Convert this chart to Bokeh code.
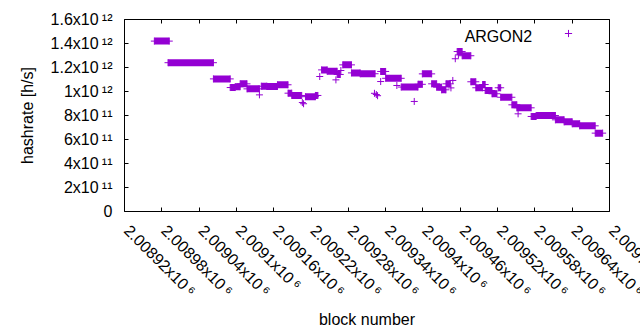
import math
from bokeh.plotting import figure
from bokeh.models import (ColumnDataSource, Label, FixedTicker, LinearAxis, Range1d,
                          Legend, LegendItem, CustomJSTickFormatter)
from bokeh.embed import file_html
from bokeh.resources import INLINE

# ---------------- data ----------------
# runs of constant hashrate (difficulty periods): first block, last block, hashrate [h/s]
run_start = [2008968, 2008990, 2009063, 2009090, 2009098, 2009106, 2009117, 2009140, 2009149,
             2009166, 2009183, 2009189, 2009211, 2009227, 2009237, 2009246, 2009262, 2009271,
             2009285, 2009299, 2009332, 2009340, 2009365, 2009392, 2009399, 2009414, 2009422,
             2009430, 2009437, 2009455, 2009463, 2009477, 2009485, 2009496, 2009500, 2009511,
             2009521, 2009525, 2009543, 2009551, 2009574, 2009582, 2009613, 2009627, 2009640,
             2009652, 2009677]
run_end = [2008992, 2009063, 2009090, 2009098, 2009106, 2009117, 2009137, 2009149, 2009166,
           2009183, 2009189, 2009205, 2009227, 2009231, 2009246, 2009262, 2009267, 2009285,
           2009299, 2009323, 2009340, 2009365, 2009392, 2009399, 2009414, 2009422, 2009430,
           2009437, 2009444, 2009463, 2009477, 2009485, 2009496, 2009500, 2009511, 2009519,
           2009525, 2009543, 2009551, 2009574, 2009582, 2009613, 2009627, 2009640, 2009652,
           2009677, 2009689]
run_value = [1.42e12, 1.24e12, 1.105e12, 1.033e12, 1.04e12, 1.064e12, 1.022e12, 1.044e12, 1.042e12,
             1.056e12, 0.986e12, 0.967e12, 0.957e12, 0.967e12, 1.18e12, 1.168e12, 1.142e12, 1.222e12,
             1.155e12, 1.148e12, 1.167e12, 1.11e12, 1.037e12, 1.06e12, 1.147e12, 1.064e12, 1.036e12,
             1.014e12, 1.064e12, 1.333e12, 1.298e12, 1.081e12, 1.031e12, 1.058e12, 1.008e12, 0.981e12,
             1.031e12, 0.952e12, 0.889e12, 0.864e12, 0.792e12, 0.8e12, 0.764e12, 0.747e12, 0.731e12,
             0.714e12, 0.653e12]

# isolated blocks
iso_block = [2009137, 2009206, 2009208, 2009234, 2009260, 2009268, 2009322, 2009325, 2009327,
             2009332, 2009358, 2009386, 2009445, 2009448, 2009452, 2009457, 2009553]
iso_value = [0.972e12, 0.908e12, 0.898e12, 1.125e12, 1.097e12, 1.175e12, 0.985e12, 0.975e12, 0.965e12,
             1.083e12, 1.05e12, 0.917e12, 1.03e12, 1.092e12, 1.273e12, 1.305e12, 0.814e12]

series_name = "ARGON2"

x_ticks = [2008920, 2008980, 2009040, 2009100, 2009160, 2009220, 2009280, 2009340,
           2009400, 2009460, 2009520, 2009580, 2009640, 2009700]
x_tick_main = ["2.00892x10", "2.00898x10", "2.00904x10", "2.0091x10", "2.00916x10",
               "2.00922x10", "2.00928x10", "2.00934x10", "2.0094x10", "2.00946x10",
               "2.00952x10", "2.00958x10", "2.00964x10", "2.0097x10"]
x_tick_sup = ["6", "6", "6", "6", "6", "6", "6", "6", "6", "6", "6", "6", "6", "6"]

y_ticks = [0, 2e11, 4e11, 6e11, 8e11, 1e12, 1.2e12, 1.4e12, 1.6e12]
y_tick_main = ["0", "2x10", "4x10", "6x10", "8x10", "1x10", "1.2x10", "1.4x10", "1.6x10"]
y_tick_sup = ["", "11", "11", "11", "11", "12", "12", "12", "12"]

x_title = "block number"
y_title = "hashrate [h/s]"

# ---------------- style ----------------
PURPLE = "#9400D3"
FONT = "Liberation Sans"
FS = "16px"
SUP = str.maketrans("0123456789", "\u2070\u00b9\u00b2\u00b3\u2074\u2075\u2076\u2077\u2078\u2079")


def with_sup(main, sup, lead=""):
    return lead + main + ("\u2009" + sup.translate(SUP) if sup else "")


x_labels = [with_sup(m, s, "\u2009") for m, s in zip(x_tick_main, x_tick_sup)]
y_labels = [with_sup(m, s) for m, s in zip(y_tick_main, y_tick_sup)]

X0, X1 = x_ticks[0], x_ticks[-1]
Y0, Y1 = y_ticks[0], y_ticks[-1]

p = figure(width=640, height=330, output_backend="svg", toolbar_location=None,
           x_range=Range1d(X0, X1), y_range=Range1d(Y0, Y1),
           x_axis_location=None, y_axis_location=None,
           min_border_left=124, min_border_right=31, min_border_top=19, min_border_bottom=119)
p.outline_line_color = "black"
p.outline_line_width = 1
p.background_fill_color = "white"
p.border_fill_color = "white"
p.grid.visible = False

LOOKUP = ("const i = vals.findIndex(v => Math.abs(v - tick) <= 1e-9 * Math.max(1, Math.abs(v)));"
          " return i >= 0 ? labels[i] : '';")


def style_axis(ax, show):
    ax.axis_line_color = None
    ax.major_tick_in = 4
    ax.major_tick_out = 0
    ax.minor_tick_in = 0
    ax.minor_tick_out = 0
    ax.major_tick_line_color = "black"
    if show:
        ax.major_label_text_font = FONT
        ax.major_label_text_font_size = FS
        ax.major_label_text_color = "black"
        ax.axis_label_text_font = FONT
        ax.axis_label_text_font_size = FS
        ax.axis_label_text_font_style = "normal"
        ax.axis_label_text_color = "black"
    else:
        ax.major_label_text_font_size = "1px"
        ax.major_label_standoff = 0


fx = CustomJSTickFormatter(args=dict(vals=x_ticks, labels=x_labels), code=LOOKUP)
fy = CustomJSTickFormatter(args=dict(vals=y_ticks, labels=y_labels), code=LOOKUP)
blank = CustomJSTickFormatter(code="return ''")

# tick order: the two right-most ticks are listed early so that Bokeh does not pull the
# right-most label back inside the canvas (the reference lets it run off the edge)
x_tick_order = [x_ticks[0]] + x_ticks[-2:] + x_ticks[1:-2]

xb = LinearAxis(ticker=FixedTicker(ticks=x_tick_order, minor_ticks=[]), formatter=fx,
                axis_label=x_title)
style_axis(xb, True)
xb.major_label_orientation = -math.pi / 4
xb.major_label_standoff = 14
xb.axis_label_standoff = 2
p.add_layout(xb, "below")

yl = LinearAxis(ticker=FixedTicker(ticks=y_ticks, minor_ticks=[]), formatter=fy, axis_label=y_title)
style_axis(yl, True)
yl.major_label_standoff = 12
yl.axis_label_standoff = 12
p.add_layout(yl, "left")

xa = LinearAxis(ticker=FixedTicker(ticks=x_ticks, minor_ticks=[]), formatter=blank)
style_axis(xa, False)
p.add_layout(xa, "above")
yr = LinearAxis(ticker=FixedTicker(ticks=y_ticks, minor_ticks=[]), formatter=blank)
style_axis(yr, False)
p.add_layout(yr, "right")

# bands (dense runs of + markers)
runs = ColumnDataSource(dict(x0=run_start, x1=run_end, y=run_value))
p.segment(x0="x0", y0="y", x1="x1", y1="y", source=runs, line_color=PURPLE,
          line_width=7, line_cap="butt")
pts = ColumnDataSource(dict(x=run_start + run_end + iso_block,
                            y=run_value + run_value + iso_value))
r_pts = p.scatter(x="x", y="y", source=pts, marker="cross", size=7,
                  line_color=PURPLE, line_width=1)

# key: text on the left, sample on the right (gnuplot style)
p.add_layout(Label(x=X1, y=Y1, text=series_name, x_offset=-77.3, y_offset=-17.4,
                   text_align="right", text_baseline="alphabetic", text_font=FONT,
                   text_font_size=FS, text_color="black"))
legend = Legend(items=[LegendItem(label=" ", renderers=[r_pts])], location=(434.5, 169.5))
legend.border_line_color = None
legend.background_fill_alpha = 0
legend.padding = 0
legend.margin = 0
legend.spacing = 0
legend.glyph_width = 18
legend.glyph_height = 18
legend.label_height = 18
legend.label_width = 0
legend.label_standoff = 0
legend.label_text_font_size = "8px"
p.add_layout(legend)

open("out.html", "w").write(file_html(p, INLINE))
